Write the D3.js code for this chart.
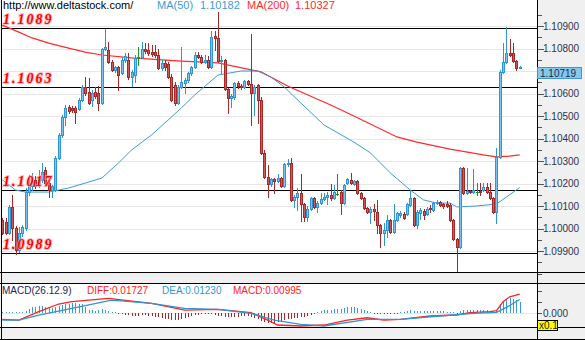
<!DOCTYPE html>
<html>
<head>
<meta charset="utf-8">
<script src="https://cdn.jsdelivr.net/npm/d3@7/dist/d3.min.js"></script>
<style>
  html, body { margin: 0; padding: 0; background: #fff; }
  svg { display: block; }
  text { font-family: "Liberation Sans", Arial, sans-serif; }
</style>
</head>
<body>
<svg id="chart" width="585" height="340"></svg>
<script>
// EUR/USD candles, oldest first
const open = [
  1.10038,1.10029,1.09980,1.10096,1.10002,1.09904,1.09980,1.10002,1.10162,1.10189,
  1.10216,1.10193,1.10216,1.10260,1.10202,1.10171,1.10171,1.10313,1.10416,1.10496,
  1.10540,1.10536,1.10536,1.10531,1.10571,1.10629,1.10607,1.10571,1.10607,1.10602,
  1.10558,1.10798,1.10793,1.10740,1.10704,1.10718,1.10691,1.10749,1.10749,1.10673,
  1.10682,1.10762,1.10762,1.10798,1.10793,1.10784,1.10784,1.10771,1.10713,1.10736,
  1.10731,1.10673,1.10638,1.10558,1.10629,1.10647,1.10660,1.10691,1.10718,1.10771,
  1.10762,1.10740,1.10749,1.10718,1.10856,1.10847,1.10744,1.10749,1.10620,1.10580,
  1.10584,1.10647,1.10633,1.10629,1.10656,1.10642,1.10602,1.10638,1.10571,1.10336,
  1.10229,1.10198,1.10220,1.10211,1.10224,1.10189,1.10287,1.10291,1.10127,1.10140,
  1.10158,1.10109,1.10051,1.10087,1.10136,1.10096,1.10113,1.10131,1.10140,1.10149,
  1.10136,1.10153,1.10162,1.10113,1.10202,1.10216,1.10198,1.10211,1.10158,1.10136,
  1.10091,1.10073,1.10087,1.10073,1.10016,1.09980,1.09993,1.10038,1.09984,1.10038,
  1.10060,1.10064,1.10064,1.10104,1.10136,1.10016,1.10069,1.10078,1.10064,1.10091,
  1.10082,1.10113,1.10118,1.10109,1.10109,1.10104,1.10038,1.09953,1.09918,1.10269,
  1.10158,1.10167,1.10162,1.10162,1.10167,1.10171,1.10184,1.10162,1.10136,1.10073,
  1.10318,1.10696,1.10740,1.10780,1.10780,1.10744,1.10713
];
const high = [
  1.10047,1.10047,1.10104,1.10149,1.10011,1.10007,1.10016,1.10180,1.10238,1.10247,
  1.10233,1.10260,1.10291,1.10273,1.10216,1.10193,1.10322,1.10424,1.10504,1.10549,
  1.10549,1.10544,1.10544,1.10580,1.10638,1.10673,1.10669,1.10616,1.10629,1.10633,
  1.10802,1.10887,1.10829,1.10749,1.10722,1.10722,1.10762,1.10780,1.10780,1.10704,
  1.10771,1.10807,1.10829,1.10824,1.10824,1.10816,1.10816,1.10798,1.10749,1.10749,
  1.10740,1.10687,1.10651,1.10638,1.10807,1.10669,1.10696,1.10722,1.10784,1.10784,
  1.10771,1.10771,1.10767,1.10878,1.10878,1.10962,1.10767,1.10753,1.10624,1.10598,
  1.10651,1.10656,1.10642,1.10660,1.10660,1.10864,1.10638,1.10642,1.10584,1.10349,
  1.10282,1.10224,1.10224,1.10242,1.10229,1.10291,1.10309,1.10313,1.10149,1.10180,
  1.10242,1.10113,1.10100,1.10140,1.10140,1.10122,1.10158,1.10158,1.10162,1.10198,
  1.10193,1.10242,1.10171,1.10198,1.10224,1.10247,1.10216,1.10216,1.10162,1.10140,
  1.10096,1.10096,1.10109,1.10127,1.10020,1.10024,1.10060,1.10042,1.10109,1.10073,
  1.10078,1.10073,1.10113,1.10171,1.10140,1.10082,1.10091,1.10087,1.10096,1.10104,
  1.10118,1.10127,1.10122,1.10113,1.10122,1.10113,1.10042,1.09958,1.10273,1.10273,
  1.10269,1.10171,1.10264,1.10202,1.10202,1.10202,1.10202,1.10202,1.10140,1.10358,
  1.10704,1.10824,1.10896,1.10842,1.10824,1.10749,1.10722
];
const low = [
  1.09976,1.09976,1.09976,1.09949,1.09887,1.09896,1.09967,1.09993,1.10149,1.10171,
  1.10180,1.10184,1.10207,1.10189,1.10140,1.10140,1.10167,1.10309,1.10407,1.10460,
  1.10513,1.10518,1.10469,1.10527,1.10567,1.10593,1.10553,1.10544,1.10580,1.10527,
  1.10553,1.10793,1.10736,1.10700,1.10696,1.10616,1.10687,1.10740,1.10664,1.10633,
  1.10651,1.10727,1.10758,1.10780,1.10771,1.10767,1.10762,1.10709,1.10704,1.10704,
  1.10669,1.10567,1.10549,1.10553,1.10624,1.10602,1.10651,1.10682,1.10713,1.10758,
  1.10736,1.10736,1.10713,1.10713,1.10793,1.10740,1.10691,1.10616,1.10513,1.10540,
  1.10576,1.10624,1.10620,1.10624,1.10638,1.10460,1.10504,1.10469,1.10331,1.10224,
  1.10140,1.10189,1.10158,1.10207,1.10184,1.10184,1.10278,1.10122,1.10096,1.10082,
  1.10033,1.10033,1.10033,1.10082,1.10091,1.10073,1.10109,1.10127,1.10109,1.10127,
  1.10131,1.10149,1.10064,1.10109,1.10198,1.10198,1.10193,1.10153,1.10131,1.10087,
  1.10069,1.10024,1.10038,1.09980,1.09918,1.09927,1.09962,1.09980,1.09980,1.10033,
  1.10051,1.10042,1.10060,1.10100,1.10011,1.10002,1.10042,1.10042,1.10060,1.10073,
  1.10078,1.10109,1.10100,1.10091,1.10096,1.10033,1.09949,1.09811,1.09913,1.10153,
  1.10153,1.10158,1.10158,1.10149,1.10149,1.10167,1.10158,1.10131,1.10069,1.10024,
  1.10313,1.10691,1.10736,1.10767,1.10740,1.10704,1.10713
];
const close = [
  1.09980,1.09980,1.10096,1.10002,1.09904,1.09980,1.10007,1.10162,1.10202,1.10211,
  1.10189,1.10224,1.10251,1.10202,1.10171,1.10189,1.10313,1.10416,1.10496,1.10536,
  1.10522,1.10527,1.10518,1.10571,1.10629,1.10602,1.10558,1.10602,1.10589,1.10558,
  1.10798,1.10807,1.10740,1.10704,1.10718,1.10682,1.10749,1.10767,1.10673,1.10696,
  1.10758,1.10762,1.10798,1.10789,1.10780,1.10776,1.10771,1.10713,1.10736,1.10718,
  1.10673,1.10571,1.10558,1.10629,1.10651,1.10660,1.10691,1.10718,1.10771,1.10762,
  1.10740,1.10749,1.10718,1.10851,1.10847,1.10744,1.10749,1.10620,1.10580,1.10589,
  1.10647,1.10633,1.10629,1.10656,1.10642,1.10602,1.10629,1.10571,1.10336,1.10229,
  1.10198,1.10220,1.10211,1.10224,1.10189,1.10287,1.10291,1.10127,1.10140,1.10158,
  1.10109,1.10051,1.10087,1.10136,1.10096,1.10113,1.10131,1.10140,1.10149,1.10136,
  1.10162,1.10153,1.10113,1.10193,1.10220,1.10202,1.10211,1.10158,1.10136,1.10091,
  1.10073,1.10087,1.10078,1.10016,1.09980,1.09993,1.10038,1.09984,1.10038,1.10069,
  1.10069,1.10047,1.10109,1.10136,1.10016,1.10073,1.10082,1.10060,1.10087,1.10087,
  1.10113,1.10118,1.10104,1.10100,1.10100,1.10038,1.09953,1.09918,1.10269,1.10158,
  1.10167,1.10162,1.10171,1.10162,1.10162,1.10184,1.10162,1.10136,1.10073,1.10318,
  1.10696,1.10740,1.10780,1.10771,1.10744,1.10713,1.10719
];

// Moving averages, sampled at candle indices
const ma50Idx = [0,4,7,14,20,30,35,39,45,50,54,58,65,72,77,81,85,90,97,106,111,117,123,127,131,135,137,143,149,152,156];
const ma50 = [1.10216,1.10171,1.10162,1.10162,1.10180,1.10224,1.10291,1.10349,1.10416,1.10482,1.10536,1.10593,1.10682,1.10700,1.10700,1.10673,1.10629,1.10558,1.10460,1.10384,1.10336,1.10247,1.10171,1.10127,1.10113,1.10113,1.10096,1.10100,1.10109,1.10140,1.10182];
const ma200Idx = [0,5,9,14,20,25,30,39,54,65,78,86,99,106,119,125,135,145,149,153,156];
const ma200 = [1.10904,1.10873,1.10847,1.10824,1.10802,1.10784,1.10771,1.10758,1.10744,1.10736,1.10696,1.10633,1.10549,1.10500,1.10407,1.10384,1.10353,1.10327,1.10318,1.10322,1.10327];

// MACD(26,12,9), display units (x0.1)
const diffIdx = [0,5,11,17,21,32,45,55,65,75,80,83,90,97,104,110,115,120,129,137,141,147,149,151,153,156];
const diff = [-0.0057,-0.0064,0.0012,0.0082,0.0103,0.0134,0.0088,0.0027,0.0034,0.0003,-0.0064,-0.0109,-0.0118,-0.0109,-0.0064,-0.0043,-0.0064,-0.0057,-0.0027,-0.0018,0.0003,0.0012,0.0021,0.0103,0.0148,0.01727];
const deaIdx = [0,5,11,21,33,45,55,65,75,82,90,97,110,120,132,142,149,152,156];
const dea = [-0.0064,-0.0064,-0.0018,0.0043,0.0118,0.0088,0.0043,0.0034,-0.0003,-0.0064,-0.0103,-0.0118,-0.0057,-0.0057,-0.0027,-0.0003,0.0006,0.0052,0.01230];
const macdHist = [
  0.0004,0.0004,0.0004,0.0004,0.0004,0.0004,0.0004,0.0018,0.0036,0.0054,
  0.0054,0.0063,0.0063,0.0054,0.0054,0.0045,0.0054,0.0063,0.0072,0.0081,
  0.0081,0.0090,0.0090,0.0081,0.0081,0.0054,0.0027,0.0027,0.0018,0.0027,
  0.0036,0.0027,0.0018,0.0009,0.0004,-0.0009,-0.0009,-0.0018,-0.0018,-0.0027,
  -0.0027,-0.0027,-0.0018,-0.0018,-0.0027,-0.0027,-0.0036,-0.0036,-0.0045,-0.0054,
  -0.0054,-0.0063,-0.0063,-0.0063,-0.0054,-0.0045,-0.0036,-0.0027,-0.0018,-0.0018,
  -0.0009,-0.0009,-0.0009,-0.0009,-0.0018,-0.0027,-0.0027,-0.0036,-0.0036,-0.0036,
  -0.0036,-0.0036,-0.0027,-0.0027,-0.0027,-0.0036,-0.0045,-0.0054,-0.0072,-0.0081,
  -0.0090,-0.0090,-0.0090,-0.0081,-0.0081,-0.0063,-0.0054,-0.0054,-0.0045,-0.0045,
  -0.0036,-0.0036,-0.0027,-0.0018,-0.0009,0.0009,0.0018,0.0027,0.0027,0.0027,
  0.0036,0.0036,0.0036,0.0045,0.0054,0.0054,0.0054,0.0045,0.0036,0.0027,
  0.0018,0.0009,-0.0009,-0.0009,-0.0009,-0.0009,-0.0009,-0.0009,-0.0004,-0.0004,
  0.0004,0.0009,0.0018,0.0027,0.0018,0.0018,0.0018,0.0018,0.0018,0.0018,
  0.0018,0.0018,0.0018,0.0018,0.0009,0.0009,0.0004,-0.0009,0.0018,0.0027,
  0.0027,0.0027,0.0027,0.0027,0.0027,0.0027,0.0027,0.0018,0.0009,0.0018,
  0.0081,0.0108,0.0126,0.0135,0.0126,0.0117,0.00995
];

// Horizontal support / resistance levels
const levels = [1.1089, 1.1063, 1.1017, 1.0989];
const priceTicks = d3.range(1.0980, 1.1096, 0.0005);
const priceLabels = d3.range(1.099, 1.1091, 0.001);
const macdTicks = [-0.01, 0, 0.01, 0.02];
const legend = { ma50: "1.10182", ma200: "1.10327", diff: "0.01727", dea: "0.01230", macd: "0.00995" };

const W = 585, H = 340;
const plotL = 1, plotR = 537;
const mainTop = 0, mainBot = 272;
const subTop = 283, subBot = 327;
const N = close.length;

const svg = d3.select("#chart");

const x = d3.scaleLinear().domain([0, N - 1]).range([2.3, 519.7]);
const y = d3.scaleLinear().domain([1.099, 1.109]).range([251, 26]);
const ym = d3.scaleLinear().domain([-0.0127, 0.0273]).range([subBot, subTop]);
const px = i => Math.round(x(i));
const lastY = Math.round(y(close[N - 1]));

// Backgrounds
svg.append("rect").attr("width", W).attr("height", H).attr("fill", "#f0f0f0");
svg.append("rect").attr("x", plotL).attr("y", mainTop).attr("width", plotR - plotL).attr("height", mainBot - mainTop).attr("fill", "#fff");
svg.append("rect").attr("x", plotL).attr("y", subTop).attr("width", plotR - plotL).attr("height", subBot - subTop).attr("fill", "#fff");

// Grid
const gMain = svg.append("g").attr("shape-rendering", "crispEdges");
gMain.selectAll("line.grid").data(d3.range(1.099, 1.1095, 0.001)).join("line")
  .attr("x1", plotL).attr("x2", plotR)
  .attr("y1", d => Math.round(y(d)) + 0.5).attr("y2", d => Math.round(y(d)) + 0.5)
  .attr("stroke", "#e6e6e6");
svg.append("line").attr("shape-rendering", "crispEdges")
  .attr("x1", plotL).attr("x2", plotR)
  .attr("y1", Math.round(ym(0)) + 0.5).attr("y2", Math.round(ym(0)) + 0.5)
  .attr("stroke", "#e6e6e6");

// Level lines
gMain.selectAll("line.level").data(levels).join("line")
  .attr("x1", plotL).attr("x2", plotR)
  .attr("y1", d => Math.round(y(d)) + 0.5).attr("y2", d => Math.round(y(d)) + 0.5)
  .attr("stroke", "#000");

// Moving averages
const maLine = (idx, vals) => d3.line().x((d, k) => x(idx[k])).y(d => y(d))(vals);
svg.append("path").attr("d", maLine(ma200Idx, ma200)).attr("fill", "none").attr("stroke", "#ff2a2a").attr("stroke-width", 1.2);
svg.append("path").attr("d", maLine(ma50Idx, ma50)).attr("fill", "none").attr("stroke", "#3d9bd8").attr("stroke-width", 1);

// Candles
const candles = d3.range(N).map(i => ({ i, o: open[i], h: high[i], l: low[i], c: close[i] }));
const colOf = d => d.c > d.o ? "up" : (d.c < d.o ? "down" : "flat");
const stroke = { up: "#2f95d3", down: "#a82828", flat: "#1a9a1a" };
const fill = { up: "#7cc3ec", down: "#cc5a5a", flat: "#1a9a1a" };
const gC = svg.append("g").attr("shape-rendering", "crispEdges");
gC.selectAll("line.wick").data(candles).join("line")
  .attr("x1", d => px(d.i) + 0.5).attr("x2", d => px(d.i) + 0.5)
  .attr("y1", d => Math.round(y(d.h))).attr("y2", d => Math.round(y(d.l)) + 1)
  .attr("stroke", d => stroke[colOf(d)]);
gC.selectAll("rect.body").data(candles.filter(d => colOf(d) !== "flat")).join("rect")
  .attr("x", d => px(d.i) - 0.5)
  .attr("y", d => Math.round(y(Math.max(d.o, d.c))) + 0.5)
  .attr("width", 2)
  .attr("height", d => Math.max(1, Math.round(y(Math.min(d.o, d.c))) - Math.round(y(Math.max(d.o, d.c)))))
  .attr("fill", d => fill[colOf(d)])
  .attr("stroke", d => stroke[colOf(d)]);
gC.selectAll("line.flat").data(candles.filter(d => colOf(d) === "flat")).join("line")
  .attr("x1", d => px(d.i) - 1).attr("x2", d => px(d.i) + 2)
  .attr("y1", d => Math.round(y(d.o)) + 0.5).attr("y2", d => Math.round(y(d.o)) + 0.5)
  .attr("stroke", stroke.flat);

// Level labels
svg.selectAll("text.level").data(levels).join("text")
  .attr("x", 3).attr("y", d => Math.round(y(d)) - 4)
  .text(d => d.toFixed(4))
  .style("font-family", "'Liberation Serif', 'Times New Roman', serif")
  .style("font-style", "italic").style("font-weight", "bold").style("font-size", "14px")
  .style("letter-spacing", "2px")
  .attr("fill", "#ff0000")
  .attr("stroke", "rgba(255,170,170,0.7)").attr("stroke-width", 2).attr("paint-order", "stroke");

// MACD histogram
const gH = svg.append("g").attr("shape-rendering", "crispEdges");
gH.selectAll("line").data(macdHist.map((v, i) => ({ v, i }))).join("line")
  .attr("x1", d => px(d.i) + 0.5).attr("x2", d => px(d.i) + 0.5)
  .attr("y1", d => Math.round(ym(0)))
  .attr("y2", d => {
    const y0 = Math.round(ym(0)), y1 = Math.round(ym(d.v));
    return y1 === y0 ? y0 + (d.v >= 0 ? -1 : 1) : y1;
  })
  .attr("stroke", d => d.v >= 0 ? "#3a9ad9" : "#a82828");
const mLine = (idx, vals) => d3.line().x((d, k) => x(idx[k])).y(d => ym(d))(vals);
svg.append("path").attr("d", mLine(diffIdx, diff)).attr("fill", "none").attr("stroke", "#ff2020").attr("stroke-width", 1.3);
svg.append("path").attr("d", mLine(deaIdx, dea)).attr("fill", "none").attr("stroke", "#2f95d3").attr("stroke-width", 1.3);

// Frames
const frame = svg.append("g").attr("shape-rendering", "crispEdges").attr("stroke", "#000").attr("fill", "none");
frame.append("line").attr("x1", plotL + 0.5).attr("x2", plotL + 0.5).attr("y1", 0).attr("y2", H);
frame.append("line").attr("x1", plotR + 0.5).attr("x2", plotR + 0.5).attr("y1", 0).attr("y2", H);
[mainBot, subTop, subBot, 339].forEach(v =>
  frame.append("line").attr("x1", 0).attr("x2", W).attr("y1", v + 0.5).attr("y2", v + 0.5));

// Price axis: ticks every 0.0005, labels every 0.001 (the one under the last-price box is left out)
const isLabelled = d => priceLabels.some(p => Math.abs(p - d) < 1e-7) && Math.abs(y(d) - lastY - 5) > 7;
const axisG = svg.append("g").attr("transform", `translate(${plotR + 1},0)`);
const priceAxis = d3.axisRight(y).tickValues(priceTicks).tickSize(4)
  .tickFormat(d => isLabelled(d) ? d3.format(".5f")(d) : "");
axisG.call(priceAxis);
axisG.select(".domain").remove();
axisG.selectAll(".tick line").attr("stroke", "#555").attr("shape-rendering", "crispEdges");
axisG.selectAll(".tick text").attr("x", 5).attr("fill", "#2a3550").style("font-size", "10px")
  .style("font-family", "'Liberation Sans', Arial, sans-serif");
axisG.selectAll(".tick").filter(d => isLabelled(d)).select("line").attr("x2", 6);

// Last price marker
svg.append("rect").attr("x", plotR + 0.5).attr("y", lastY + 0.5).attr("width", 44).attr("height", 11)
  .attr("fill", "#85c8ee").attr("stroke", "#3f98d4").attr("shape-rendering", "crispEdges");
svg.append("text").attr("x", plotR + 3).attr("y", lastY + 9.5).text(close[N - 1].toFixed(5))
  .attr("fill", "#1c2a48").style("font-size", "10px");

// MACD axis
const mAxisG = svg.append("g").attr("transform", `translate(${plotR + 1},0)`);
mAxisG.call(d3.axisRight(ym).tickValues(macdTicks).tickSize(4).tickFormat(d => d === 0 ? "0.000" : ""));
mAxisG.select(".domain").remove();
mAxisG.selectAll(".tick line").attr("stroke", "#555").attr("shape-rendering", "crispEdges");
mAxisG.selectAll(".tick text").attr("x", 5).attr("fill", "#2a3550").style("font-size", "10px");
svg.append("rect").attr("x", plotR + 0.5).attr("y", 320.5).attr("width", 20).attr("height", 10)
  .attr("fill", "#ffff00").attr("stroke", "#000").attr("shape-rendering", "crispEdges");
svg.append("text").attr("x", plotR + 2).attr("y", 329).text("x0.1").attr("fill", "#222").style("font-size", "10px");

// Header legends
const header = [
  { t: "http://www.deltastock.com/", x: 3, c: "#000" },
  { t: "MA(50)", x: 157, c: "#3d9bd8" },
  { t: legend.ma50, x: 200, c: "#3d9bd8" },
  { t: "MA(200)", x: 247, c: "#ff2a2a" },
  { t: legend.ma200, x: 295, c: "#ff2a2a" }
];
svg.selectAll("text.hdr").data(header).join("text")
  .attr("x", d => d.x).attr("y", 9).text(d => d.t).attr("fill", d => d.c).style("font-size", "11px");

const sub = [
  { t: "MACD(26.12.9)", x: 2, c: "#1e1e5a" },
  { t: "DIFF:" + legend.diff, x: 87, c: "#ff2020" },
  { t: "DEA:" + legend.dea, x: 162, c: "#2f95d3" },
  { t: "MACD:" + legend.macd, x: 233, c: "#ff2020" }
];
svg.selectAll("text.sub").data(sub).join("text")
  .attr("x", d => d.x).attr("y", 294).text(d => d.t).attr("fill", d => d.c).style("font-size", "10px");
</script>
</body>
</html>
